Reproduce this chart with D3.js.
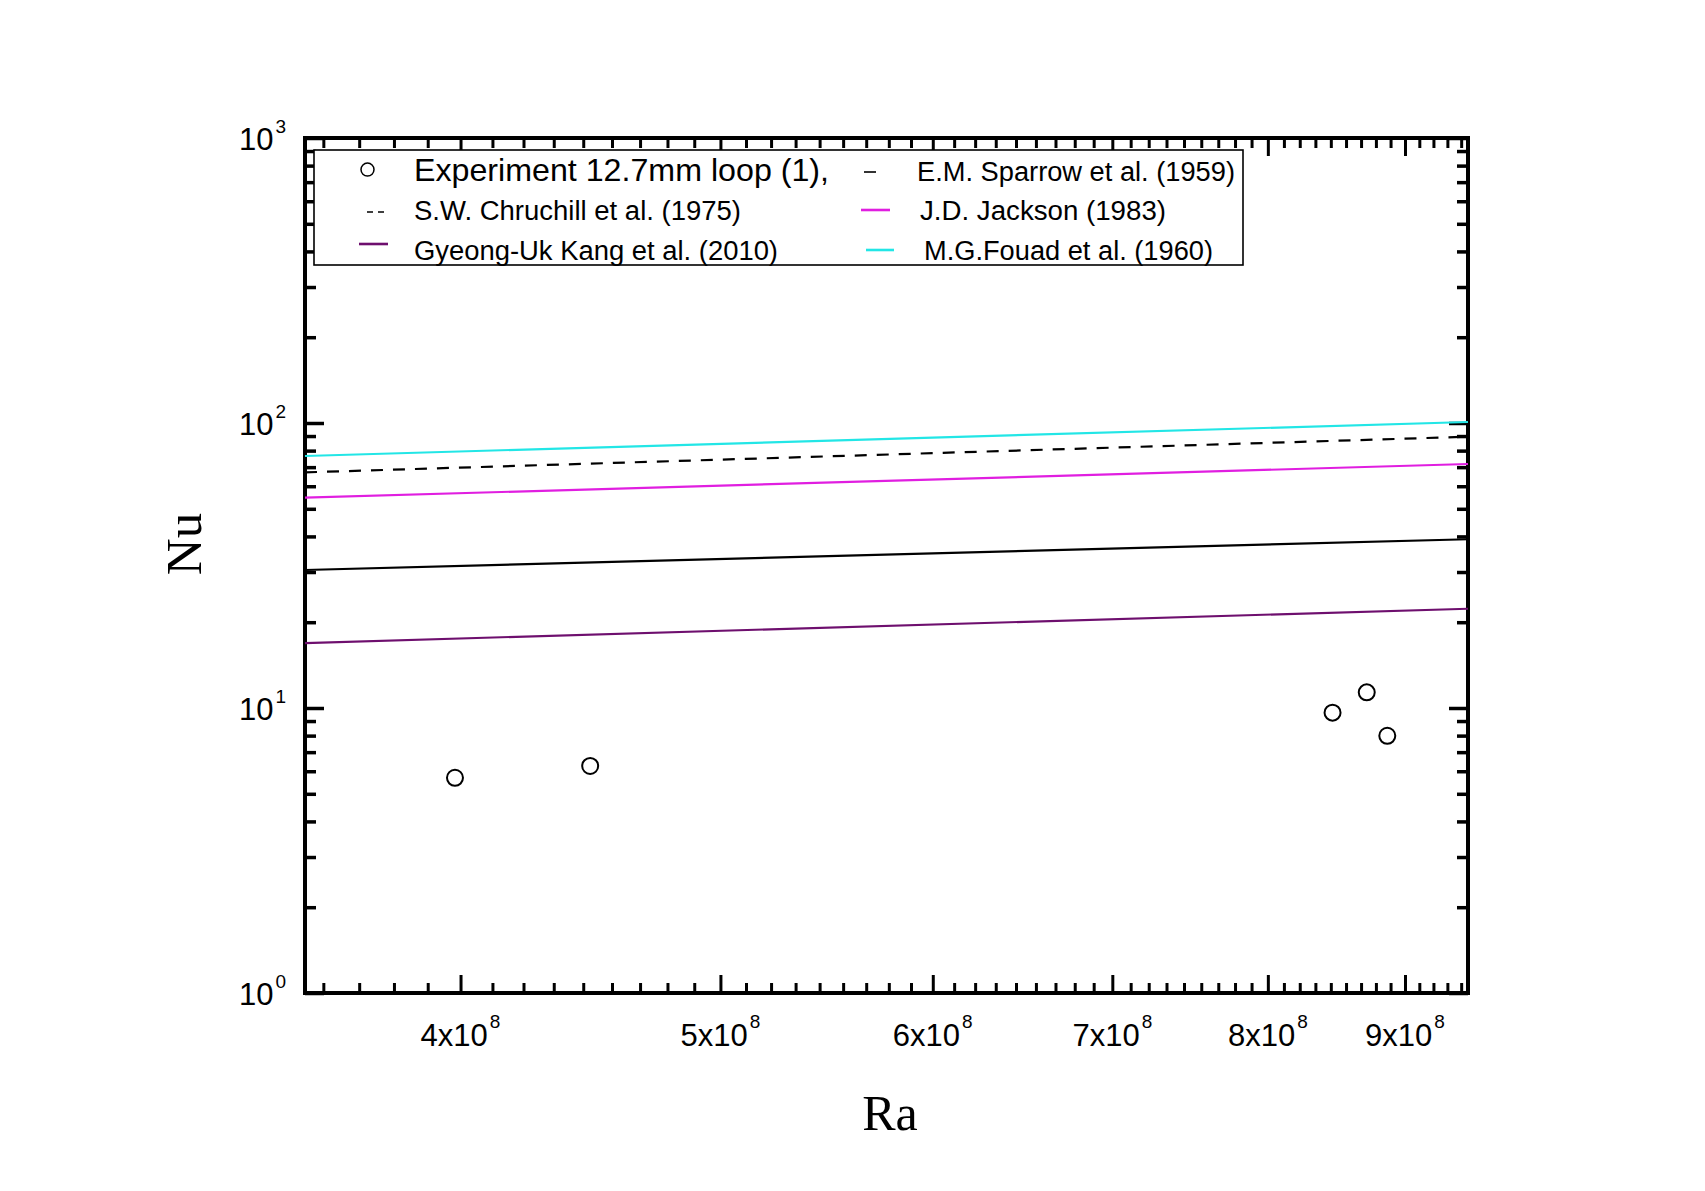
<!DOCTYPE html>
<html>
<head>
<meta charset="utf-8">
<script src="https://cdn.jsdelivr.net/npm/d3@7"></script>
<style>
  html, body { margin: 0; padding: 0; background: #fff; }
  svg { display: block; }
</style>
</head>
<body>
<svg id="chart" width="1705" height="1191"></svg>
<script>
// ---------------- data ----------------
const xMajorTicks = [4e8, 5e8, 6e8, 7e8, 8e8, 9e8];
const xTickMantissa = ["4", "5", "6", "7", "8", "9"];
const xTickExponent = "8";
const yMajorTicks = [1, 10, 100, 1000];
const yTickExponent = ["0", "1", "2", "3"];

const experimentRa = [3.981e8, 4.471e8, 8.457e8, 8.709e8, 8.864e8];
const experimentNu = [5.69, 6.26, 9.63, 11.35, 7.99];

const correlationRa = [3.5e8, 9.5e8];
const sparrowNu   = [30.5, 39.1];
const churchillNu = [67.1, 89.5];
const jacksonNu   = [54.7, 71.8];
const kangNu      = [16.9, 22.3];
const fouadNu     = [76.6, 100.8];

const legendLabels = [
  "Experiment 12.7mm loop (1),",
  "E.M. Sparrow et al. (1959)",
  "S.W. Chruchill et al. (1975)",
  "J.D. Jackson (1983)",
  "Gyeong-Uk Kang et al. (2010)",
  "M.G.Fouad et al. (1960)"
];

// ---------------- layout ----------------
const L = 305, R = 1468, T = 138, B = 993;
const sans = "'Liberation Sans', Arial, sans-serif";
const serif = "'Liberation Serif', 'Times New Roman', serif";

const svg = d3.select("#chart");
const x = d3.scaleLog().domain([3.5e8, 9.5e8]).range([L, R]);
const y = d3.scaleLog().domain([1, 1000]).range([B, T]);

// minor ticks
const xMinor = [];
for (let k = 3; k <= 9; k++) {
  for (let j = 1; j <= 8; j++) {
    const v = k * 1e8 + j * 1e8 / 9;
    if (v > 3.5e8 && v < 9.5e8) xMinor.push(v);
  }
}
const yMinor = [];
[1, 10, 100].forEach(d => { for (let m = 2; m <= 9; m++) yMinor.push(d * m); });

function styleAxis(g, w) {
  g.select(".domain").remove();
  g.selectAll("line").attr("stroke", "#000").attr("stroke-width", w);
  g.selectAll("text").remove();
}

// bottom
svg.append("g").attr("transform", `translate(0,${B})`)
  .call(d3.axisBottom(x).tickValues(xMajorTicks).tickSize(-18)).call(g => styleAxis(g, 3));
svg.append("g").attr("transform", `translate(0,${B})`)
  .call(d3.axisBottom(x).tickValues(xMinor).tickSize(-10)).call(g => styleAxis(g, 3));
// top
svg.append("g").attr("transform", `translate(0,${T})`)
  .call(d3.axisTop(x).tickValues(xMajorTicks).tickSize(-18)).call(g => styleAxis(g, 3));
svg.append("g").attr("transform", `translate(0,${T})`)
  .call(d3.axisTop(x).tickValues(xMinor).tickSize(-10)).call(g => styleAxis(g, 3));
// left
svg.append("g").attr("transform", `translate(${L},0)`)
  .call(d3.axisLeft(y).tickValues(yMajorTicks).tickSize(-19)).call(g => styleAxis(g, 3.5));
svg.append("g").attr("transform", `translate(${L},0)`)
  .call(d3.axisLeft(y).tickValues(yMinor).tickSize(-11)).call(g => styleAxis(g, 3.5));
// right
svg.append("g").attr("transform", `translate(${R},0)`)
  .call(d3.axisRight(y).tickValues(yMajorTicks).tickSize(-19)).call(g => styleAxis(g, 3.5));
svg.append("g").attr("transform", `translate(${R},0)`)
  .call(d3.axisRight(y).tickValues(yMinor).tickSize(-11)).call(g => styleAxis(g, 3.5));

// frame
svg.append("rect").attr("x", L).attr("y", T).attr("width", R - L).attr("height", B - T)
  .attr("fill", "none").attr("stroke", "#000").attr("stroke-width", 4);

// tick labels
xMajorTicks.forEach((v, i) => {
  const t = svg.append("text").attr("x", x(v)).attr("y", B + 53)
    .attr("text-anchor", "middle").attr("font-family", sans).attr("font-size", 31).attr("fill", "#000");
  t.append("tspan").text(xTickMantissa[i] + "x10");
  t.append("tspan").attr("dy", -18).attr("dx", 2).attr("font-size", 19).text(xTickExponent);
});
yMajorTicks.forEach((v, i) => {
  const t = svg.append("text").attr("x", 286).attr("y", y(v) + 12)
    .attr("text-anchor", "end").attr("font-family", sans).attr("font-size", 31).attr("fill", "#000");
  t.append("tspan").text("10");
  t.append("tspan").attr("dy", -17).attr("dx", 2).attr("font-size", 19).text(yTickExponent[i]);
});

// axis titles
svg.append("text").attr("x", 890).attr("y", 1130).attr("text-anchor", "middle")
  .attr("font-family", serif).attr("font-size", 50).attr("fill", "#000").text("Ra");
svg.append("text").attr("transform", "translate(201,544) rotate(-90)").attr("text-anchor", "middle")
  .attr("font-family", serif).attr("font-size", 51).attr("fill", "#000").text("Nu");

// correlation lines
const line = d3.line().x(d => x(d[0])).y(d => y(d[1]));
const series = [
  { nu: fouadNu, color: "#22e6e6", dash: null },
  { nu: churchillNu, color: "#000", dash: "12,10" },
  { nu: jacksonNu, color: "#e01ee0", dash: null },
  { nu: sparrowNu, color: "#000", dash: null },
  { nu: kangNu, color: "#6e0f6e", dash: null }
];
const plot = svg.append("g");
series.forEach(s => {
  plot.append("path").datum(correlationRa.map((r, i) => [r, s.nu[i]]))
    .attr("d", line).attr("fill", "none").attr("stroke", s.color).attr("stroke-width", 2.2)
    .attr("stroke-dasharray", s.dash);
});

// experiment points
plot.selectAll("circle.exp").data(experimentRa.map((r, i) => [r, experimentNu[i]]))
  .enter().append("circle").attr("class", "exp")
  .attr("cx", d => x(d[0])).attr("cy", d => y(d[1])).attr("r", 8)
  .attr("fill", "none").attr("stroke", "#000").attr("stroke-width", 2);

// legend
const lg = svg.append("g");
lg.append("rect").attr("x", 314).attr("y", 150).attr("width", 929).attr("height", 115)
  .attr("fill", "#fff").attr("stroke", "#000").attr("stroke-width", 1.6);

const legendPos = [
  { x: 414, y: 181, size: 32, w: 415 },
  { x: 917, y: 181, size: 27, w: 318 },
  { x: 414, y: 220, size: 27, w: 327 },
  { x: 920, y: 220, size: 27, w: 246 },
  { x: 414, y: 260, size: 27, w: 364 },
  { x: 924, y: 260, size: 27, w: 289 }
];
legendLabels.forEach((lab, i) => {
  const p = legendPos[i];
  lg.append("text").attr("x", p.x).attr("y", p.y).attr("font-family", sans)
    .attr("font-size", p.size).attr("fill", "#000")
    .attr("textLength", p.w).attr("lengthAdjust", "spacingAndGlyphs").text(lab);
});
lg.append("circle").attr("cx", 367.5).attr("cy", 169.6).attr("r", 6.5)
  .attr("fill", "none").attr("stroke", "#000").attr("stroke-width", 1.5);
lg.append("line").attr("x1", 864).attr("x2", 876).attr("y1", 172).attr("y2", 172)
  .attr("stroke", "#000").attr("stroke-width", 1.6);
lg.append("line").attr("x1", 367).attr("x2", 384).attr("y1", 212).attr("y2", 212)
  .attr("stroke", "#000").attr("stroke-width", 1.6).attr("stroke-dasharray", "6,5");
lg.append("line").attr("x1", 861).attr("x2", 890).attr("y1", 210).attr("y2", 210)
  .attr("stroke", "#e01ee0").attr("stroke-width", 2.6);
lg.append("line").attr("x1", 359).attr("x2", 388).attr("y1", 244).attr("y2", 244)
  .attr("stroke", "#6e0f6e").attr("stroke-width", 2.6);
lg.append("line").attr("x1", 866).attr("x2", 894).attr("y1", 250).attr("y2", 250)
  .attr("stroke", "#22e6e6").attr("stroke-width", 2.6);
</script>
</body>
</html>
